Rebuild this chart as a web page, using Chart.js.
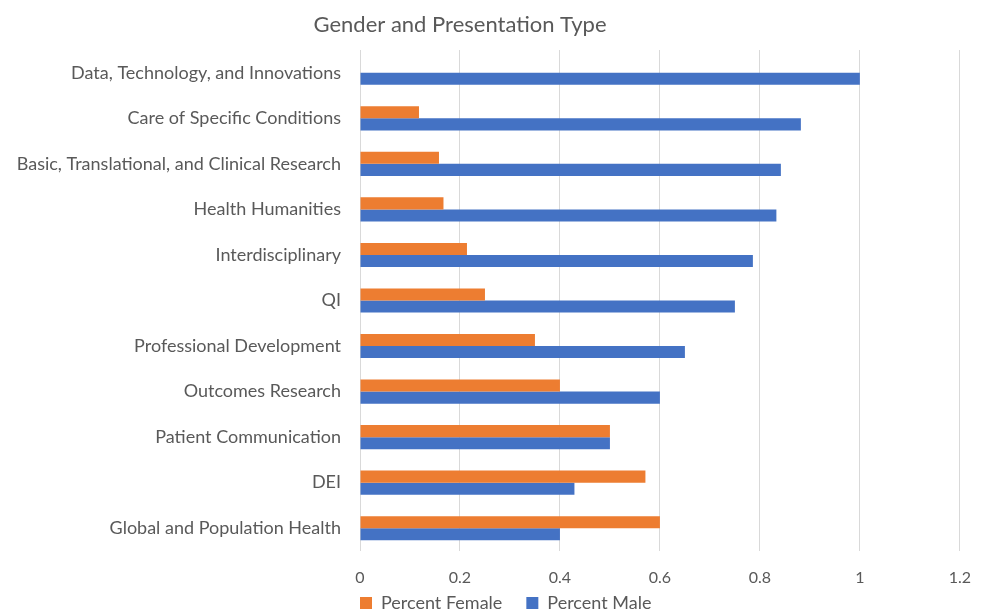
<!DOCTYPE html>
<html>
<head>
<meta charset="utf-8">
<script src="https://cdn.jsdelivr.net/npm/chart.js@4"></script>
<style>
  html, body { margin: 0; padding: 0; background: #fff; }
  #wrap { width: 988px; height: 611px; }
</style>
</head>
<body>
<div id="wrap"><canvas id="genderChart" width="988" height="611"></canvas></div>
<script>
const categories = [
  'Data, Technology, and Innovations',
  'Care of Specific Conditions',
  'Basic, Translational, and Clinical Research',
  'Health Humanities',
  'Interdisciplinary',
  'QI',
  'Professional Development',
  'Outcomes Research',
  'Patient Communication',
  'DEI',
  'Global and Population Health'
];
const percentFemale = [0, 0.118, 0.158, 0.167, 0.214, 0.25, 0.35, 0.4, 0.5, 0.571, 0.6];
const percentMale = [1, 0.882, 0.842, 0.833, 0.786, 0.75, 0.65, 0.6, 0.5, 0.429, 0.4];
const xTicks = [0, 0.2, 0.4, 0.6, 0.8, 1, 1.2];

const textColor = '#595959';
const font = 'Lato, "Liberation Sans", sans-serif';
const legendPad = 24;
const padBottom = -40;

// nudge title and legend to where they sit in the reference
const placeBlocks = {
  id: 'placeBlocks',
  afterLayout(chart) {
    if (chart.titleBlock) chart.titleBlock.right -= 40;
    const l = chart.legend;
    if (l) {
      const dy = (594 - legendPad) - l.top;
      l.top += dy;
      l.bottom += dy;
      l.left = 360 - legendPad;
    }
  }
};

const ctx = document.getElementById('genderChart').getContext('2d');
new Chart(ctx, {
  type: 'bar',
  data: {
    labels: categories,
    datasets: [{
      label: 'Percent Female',
      data: percentFemale,
      backgroundColor: '#ED7D31',
      categoryPercentage: 0.53,
      barPercentage: 1
    }, {
      label: 'Percent Male',
      data: percentMale,
      backgroundColor: '#4472C4',
      categoryPercentage: 0.53,
      barPercentage: 1
    }]
  },
  plugins: [placeBlocks],
  options: {
    indexAxis: 'y',
    responsive: false,
    animation: false,
    layout: { padding: { left: 0, right: 28, top: 0, bottom: padBottom } },
    scales: {
      x: {
        min: 0,
        max: 1.2,
        afterBuildTicks: (scale) => {
          scale.ticks = xTicks.map(v => ({ value: v }));
        },
        afterFit: (scale) => {
          scale.height = 611 - padBottom - 551 - scale.chart.legend.height;
        },
        grid: { color: '#d9d9d9', drawTicks: false, lineWidth: 1 },
        border: { display: false },
        ticks: {
          color: textColor,
          font: { family: font, size: 16 },
          padding: 17,
          callback: (v) => String(v)
        }
      },
      y: {
        grid: { display: false },
        border: { display: false },
        afterFit: (scale) => { scale.width = 360; },
        ticks: {
          color: textColor,
          font: { family: font, size: 18 },
          padding: 11
        }
      }
    },
    plugins: {
      title: {
        display: true,
        text: 'Gender and Presentation Type',
        color: textColor,
        font: { family: font, size: 22, weight: 'normal' },
        padding: { top: 12, bottom: 11.6 }
      },
      legend: {
        position: 'bottom',
        align: 'start',
        labels: {
          color: textColor,
          font: { family: font, size: 18, lineHeight: 1 },
          boxWidth: 12,
          boxHeight: 12,
          padding: legendPad
        }
      },
      tooltip: { enabled: false }
    }
  }
});
</script>
</body>
</html>
